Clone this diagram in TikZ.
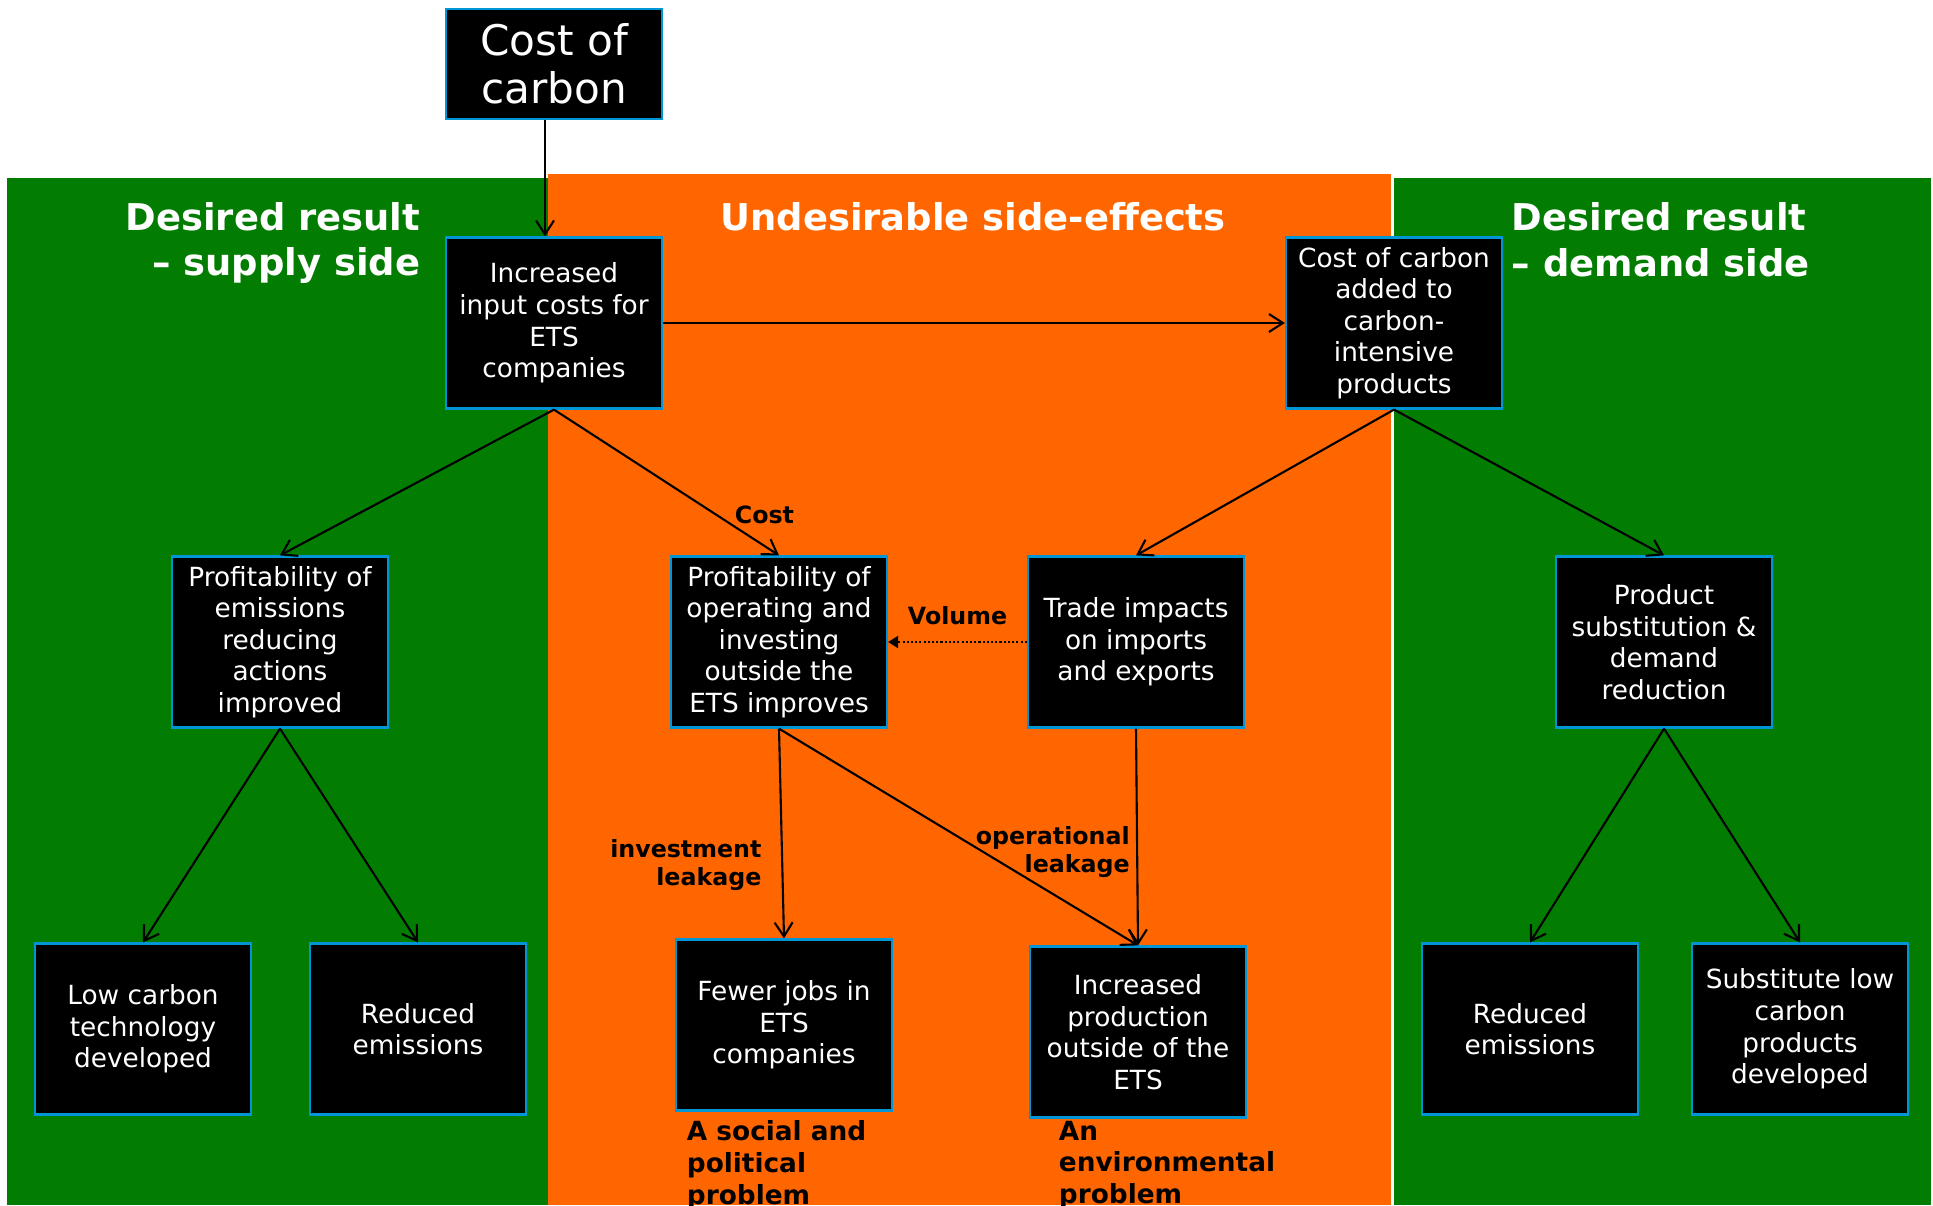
\documentclass[tikz,border=0pt]{standalone}
\usepackage{fontspec}
\setmainfont{DejaVu Sans}
\usetikzlibrary{arrows.meta}
\definecolor{sidegreen}{RGB}{2,125,2}
\definecolor{sideorange}{RGB}{255,102,0}
\definecolor{boxblue}{RGB}{0,150,214}

\begin{document}
\begin{tikzpicture}[x=0.02cm,y=-0.02cm,>={Straight Barb[length=2.8mm,width=3.6mm]},line width=1.2pt]
\tikzstyle{every node}=[font=\fontsize{15}{18}\selectfont]
\tikzstyle{effect}=[draw=boxblue,line width=1.3pt,fill=black,text=white,align=center,minimum width=4.32cm,minimum height=3.42cm,inner sep=0pt]
\tikzstyle{heading}=[text=white,font=\fontsize{21}{26}\selectfont\bfseries]
\tikzstyle{leak}=[font=\fontsize{13.5}{16}\selectfont\bfseries]
\tikzstyle{problem}=[font=\fontsize{15}{18}\selectfont\bfseries,align=left,anchor=north west]

\useasboundingbox (0,0) rectangle (1933,1205);
\clip (0,0) rectangle (1933,1205);

% panels
\fill[sidegreen] (7,178) rectangle (548,1205);
\fill[sideorange] (548,174) rectangle (1391,1205);
\fill[sidegreen] (1394,178) rectangle (1931,1205);

\node[heading,align=right,anchor=east] (supply) at (427,243) {Desired result\\– supply side};
\node[heading] (side) at (973,217) {Undesirable side-effects};
\node[heading,align=left,anchor=west] (demand) at (1505,240) {Desired result\\– demand side};

\node[effect,minimum height=2.2cm,font=\fontsize{24}{27.5}\selectfont] (cost) at (554,64) {Cost of\\carbon};
\node[effect] (inc) at (554,323) {Increased\\input costs for\\ETS\\companies};
\node[effect] (added) at (1394,323) {Cost of carbon\\added to\\carbon-\\intensive\\products};

\node[effect] (prof1) at (280,642) {Profitability of\\emissions\\reducing\\actions\\improved};
\node[effect] (prof2) at (779,642) {Profitability of\\operating and\\investing\\outside the\\ETS improves};
\node[effect] (trade) at (1136,642) {Trade impacts\\on imports\\and exports};
\node[effect] (product) at (1664,642) {Product\\substitution \&\\demand\\reduction};

\node[effect] (low) at (143,1029) {Low carbon\\technology\\developed};
\node[effect] (red1) at (418,1029) {Reduced\\emissions};
\node[effect] (fewer) at (784,1025) {Fewer jobs in\\ETS\\companies};
\node[effect] (incprod) at (1138,1032) {Increased\\production\\outside of the\\ETS};
\node[effect] (red2) at (1530,1029) {Reduced\\emissions};
\node[effect] (subst) at (1800,1029) {Substitute low\\carbon\\products\\developed};

\node[problem] (social) at (680,1114) {A social and\\political\\problem};
\node[problem] (environ) at (1052,1114) {An\\environmental\\problem};

\path[->] ([xshift=-0.18cm]cost.south) edge ([xshift=-0.18cm]inc.north);
\path[->] (inc) edge (added);
\path[->] (inc.south) edge (prof1.north)
  edge node[leak,pos=0.72,right=0.24cm] {Cost} (prof2.north);
\path[->] (added.south) edge (trade.north) edge (product.north);
\path[-{Triangle[length=2mm,width=2.4mm]},dash pattern=on 1.2pt off 1.2pt] (trade) edge node[leak,above=0.2cm] {Volume} (prof2);

\path[->] (prof1.south) edge (low.north) edge (red1.north);
\path[->] (prof2.south) edge node[leak,align=right,pos=0.65,left=0.28cm] {investment\\leakage} (fewer.north)
  edge node[leak,align=right,pos=0.57,anchor=east,xshift=3.06cm] {operational\\leakage} (incprod.north);
\path[->] (trade.south) edge (incprod.north);
\path[->] (product.south) edge (red2.north) edge (subst.north);

\end{tikzpicture}
\end{document}
